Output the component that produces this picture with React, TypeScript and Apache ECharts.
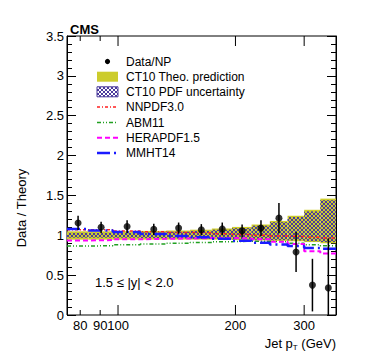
import React, { useEffect, useRef } from "react";
import * as echarts from "echarts";

const binEdges = [74, 84, 97, 114, 133, 153, 174, 196, 220, 245, 272, 300, 330, 362];
const binCenters = [79, 90.5, 105.5, 123.5, 143, 163.5, 185, 208, 232.5, 258.5, 286, 315, 346];
const dataRatio = [1.155, 1.1, 1.11, 1.075, 1.09, 1.07, 1.08, 1.055, 1.09, 1.215, 0.79, 0.375, 0.34];
const dataErr = [0.09, 0.07, 0.08, 0.07, 0.07, 0.07, 0.08, 0.08, 0.1, 0.19, 0.25, 0.33, 0.62];
const theoUp = [1.05, 1.05, 1.05, 1.055, 1.06, 1.07, 1.085, 1.105, 1.135, 1.18, 1.245, 1.32, 1.46];
const theoLo = [0.945, 0.945, 0.945, 0.945, 0.945, 0.945, 0.945, 0.94, 0.935, 0.93, 0.925, 0.915, 0.9];
const pdfUp = [1.03, 1.03, 1.03, 1.035, 1.045, 1.055, 1.07, 1.09, 1.12, 1.165, 1.23, 1.3, 1.44];
const pdfLo = [0.97, 0.97, 0.97, 0.965, 0.96, 0.955, 0.955, 0.95, 0.945, 0.94, 0.935, 0.925, 0.915];
const nnpdf = [1.07, 1.07, 1.055, 1.045, 1.035, 1.03, 1.02, 1.01, 1.0, 0.99, 0.985, 0.975, 0.965];
const abm = [0.865, 0.87, 0.88, 0.89, 0.9, 0.91, 0.92, 0.925, 0.925, 0.92, 0.9, 0.88, 0.87];
const hera = [0.935, 0.94, 0.95, 0.955, 0.96, 0.965, 0.965, 0.96, 0.95, 0.92, 0.89, 0.8, 0.77];
const mmht = [1.08, 1.06, 1.04, 1.015, 0.99, 0.975, 0.955, 0.93, 0.905, 0.885, 0.865, 0.84, 0.83];
const xTicks = [80, 90, 100, 200, 300];
const xMajor = [100, 200, 300];

const FONT = "Liberation Sans, Arial, Helvetica, sans-serif";
const YELLOW = "#cccc2c";
const HATCH = "#4a3a9c";

function hatchLines(x0: number, y0: number, x1: number, y1: number, s: number, color: string) {
  const out: any[] = [];
  const st = { stroke: color, lineWidth: 1 };
  for (let c = Math.floor((y0 - x1) / s) * s; c <= y1 - x0; c += s) {
    const xs = Math.max(x0, y0 - c);
    const xe = Math.min(x1, y1 - c);
    if (xe > xs) out.push({ type: "line", shape: { x1: xs, y1: xs + c, x2: xe, y2: xe + c }, style: st, silent: true });
  }
  for (let c = Math.floor((x0 + y0) / s) * s; c <= x1 + y1; c += s) {
    const xs = Math.max(x0, c - y1);
    const xe = Math.min(x1, c - y0);
    if (xe > xs) out.push({ type: "line", shape: { x1: xs, y1: c - xs, x2: xe, y2: c - xe }, style: st, silent: true });
  }
  return out;
}

function stepData(vals: number[]) {
  const d: number[][] = vals.map((v, i) => [binEdges[i], v]);
  d.push([binEdges[binEdges.length - 1], vals[vals.length - 1]]);
  return d;
}

export default function App() {
  const ref = useRef<HTMLDivElement>(null);
  useEffect(() => {
    const chart = echarts.init(ref.current!, null, { renderer: "svg" });
    const bandData = binCenters.map((_, i) => [binEdges[i], binEdges[i + 1], theoLo[i], theoUp[i], pdfLo[i], pdfUp[i]]);
    const lineSeries = (name: string, vals: number[], color: string, width: number, dash: number[]) => ({
      type: "line",
      name,
      data: stepData(vals),
      step: "end",
      symbol: "none",
      z: 4,
      lineStyle: { color, width, type: dash },
    });

    const lx0 = 97, lx1 = 118, tx = 126;
    const rows = [61.5, 76.7, 91.8, 107, 122.5, 137.8, 153];
    const legendText = ["Data/NP", "CT10 Theo. prediction", "CT10 PDF uncertainty", "NNPDF3.0", "ABM11", "HERAPDF1.5", "MMHT14"];
    const graphic: any[] = legendText.map((t, i) => ({
      type: "text",
      x: tx,
      y: rows[i],
      style: { text: t, fontSize: 12, fontFamily: FONT, fill: "#000", textVerticalAlign: "middle" },
    }));
    graphic.push({ type: "circle", shape: { cx: 107.5, cy: rows[0], r: 2.6 }, style: { fill: "#000" } });
    graphic.push({ type: "rect", shape: { x: lx0, y: rows[1] - 5, width: lx1 - lx0, height: 10 }, style: { fill: YELLOW } });
    graphic.push({ type: "rect", shape: { x: lx0, y: rows[2] - 5, width: lx1 - lx0, height: 10 }, style: { fill: "#fff", stroke: HATCH, lineWidth: 1 } });
    hatchLines(lx0, rows[2] - 5, lx1, rows[2] + 5, 4, HATCH).forEach((l) => graphic.push(l));
    const lgLines: [string, number, number[]][] = [
      ["#ff2020", 1.5, [3, 2, 1, 2]],
      ["#20a020", 1.5, [4, 2, 1, 2, 1, 2]],
      ["#ff00ff", 2, [5, 3]],
      ["#1a1aff", 2.5, [13, 4, 2, 4]],
    ];
    lgLines.forEach(([c, w, dash], i) =>
      graphic.push({ type: "line", shape: { x1: lx0, y1: rows[3 + i], x2: lx1, y2: rows[3 + i] }, style: { stroke: c, lineWidth: w, lineDash: dash } })
    );
    graphic.push({ type: "text", x: 70, y: 29, style: { text: "CMS", fontSize: 13, fontWeight: "bold", fontFamily: FONT, fill: "#000", textVerticalAlign: "middle" } });
    graphic.push({ type: "text", x: 95, y: 282, style: { text: "1.5 \u2264 |y| < 2.0", fontSize: 13, fontFamily: FONT, fill: "#000", textVerticalAlign: "middle" } });
    graphic.push({
      type: "text",
      x: 21,
      y: 208,
      rotation: Math.PI / 2,
      style: { text: "Data / Theory", fontSize: 13, fontFamily: FONT, fill: "#000", textAlign: "center", textVerticalAlign: "middle" },
    });
    graphic.push({
      type: "text",
      x: 336,
      y: 343,
      style: {
        text: "{a|Jet p}{b|T}{a| (GeV)}",
        textAlign: "right",
        textVerticalAlign: "middle",
        rich: {
          a: { fontSize: 13, fontFamily: FONT, fill: "#000" },
          b: { fontSize: 8, fontFamily: FONT, fill: "#000", padding: [9, 0, 0, 0] },
        },
      },
    });

    chart.setOption({
      animation: false,
      grid: { left: 67, right: 38, top: 36, bottom: 44, show: true, borderColor: "#000", borderWidth: 1, backgroundColor: "transparent" },
      xAxis: {
        type: "log",
        logBase: 10,
        min: 74,
        max: 362,
        axisLine: { show: false },
        axisTick: { show: false },
        axisLabel: { show: false },
        splitLine: { show: false },
        minorTick: { show: false },
        minorSplitLine: { show: false },
      },
      yAxis: [
        {
          type: "value",
          min: 0,
          max: 3.5,
          interval: 0.5,
          axisLine: { show: true, lineStyle: { color: "#000" } },
          axisTick: { show: true, inside: true, length: 9, lineStyle: { color: "#000" } },
          minorTick: { show: true, splitNumber: 5, length: 5, lineStyle: { color: "#000" } },
          axisLabel: { fontSize: 13, fontFamily: FONT, color: "#000", margin: 3 },
          splitLine: { show: false },
        },
        {
          type: "value",
          min: 0,
          max: 3.5,
          interval: 0.5,
          position: "right",
          axisLine: { show: true, lineStyle: { color: "#000" } },
          axisTick: { show: true, inside: true, length: 9, lineStyle: { color: "#000" } },
          minorTick: { show: true, splitNumber: 5, length: 5, lineStyle: { color: "#000" } },
          axisLabel: { show: false },
          splitLine: { show: false },
        },
      ],
      graphic,
      series: [
        {
          type: "custom",
          name: "bands",
          z: 2,
          data: bandData,
          encode: { x: [0, 1], y: [2, 3] },
          renderItem: (params: any, api: any) => {
            const a = api.coord([api.value(0), api.value(3)]);
            const b = api.coord([api.value(1), api.value(2)]);
            const pa = api.coord([api.value(0), api.value(5)]);
            const pb = api.coord([api.value(1), api.value(4)]);
            const children: any[] = [
              { type: "rect", shape: { x: a[0], y: a[1], width: b[0] - a[0], height: b[1] - a[1] }, style: { fill: YELLOW } },
            ];
            hatchLines(pa[0], pa[1], pb[0], pb[1], 4, HATCH).forEach((l) => children.push(l));
            return { type: "group", children };
          },
        },
        lineSeries("NNPDF3.0", nnpdf, "#ff2020", 1.5, [3, 2, 1, 2]),
        lineSeries("ABM11", abm, "#20a020", 1.5, [4, 2, 1, 2, 1, 2]),
        lineSeries("HERAPDF1.5", hera, "#ff00ff", 2, [5, 3]),
        lineSeries("MMHT14", mmht, "#1a1aff", 2.5, [13, 4, 2, 4]),
        {
          type: "custom",
          name: "errors",
          z: 5,
          data: binCenters.map((x, i) => [x, dataRatio[i], dataErr[i]]),
          encode: { x: 0, y: 1 },
          renderItem: (params: any, api: any) => {
            const x = api.value(0), y = api.value(1), e = api.value(2);
            const top = api.coord([x, Math.min(3.5, y + e)]);
            const bot = api.coord([x, Math.max(0, y - e)]);
            return { type: "line", shape: { x1: top[0], y1: top[1], x2: bot[0], y2: bot[1] }, style: { stroke: "#000", lineWidth: 1.5 } };
          },
        },
        {
          type: "scatter",
          name: "Data/NP",
          z: 6,
          symbol: "circle",
          symbolSize: 7,
          itemStyle: { color: "#000" },
          data: binCenters.map((x, i) => [x, dataRatio[i]]),
        },
        {
          type: "custom",
          name: "xticks",
          z: 7,
          data: xTicks.map((v) => [v, 0]),
          encode: { x: 0, y: 1 },
          renderItem: (params: any, api: any) => {
            const v = api.value(0);
            const p = api.coord([v, 0]);
            const q = api.coord([v, 3.5]);
            const len = xMajor.indexOf(v) >= 0 ? 10 : 5;
            const st = { stroke: "#000", lineWidth: 1 };
            return {
              type: "group",
              children: [
                { type: "line", shape: { x1: p[0], y1: p[1], x2: p[0], y2: p[1] - len }, style: st },
                { type: "line", shape: { x1: q[0], y1: q[1], x2: q[0], y2: q[1] + len }, style: st },
                {
                  type: "text",
                  x: p[0],
                  y: p[1] + 4,
                  style: { text: String(v), fontSize: 13, fontFamily: FONT, fill: "#000", textAlign: "center", textVerticalAlign: "top" },
                },
              ],
            };
          },
        },
      ],
    });
    return () => chart.dispose();
  }, []);
  return <div ref={ref} style={{ width: 374, height: 359, position: "absolute", left: 0, top: 0 }} />;
}
